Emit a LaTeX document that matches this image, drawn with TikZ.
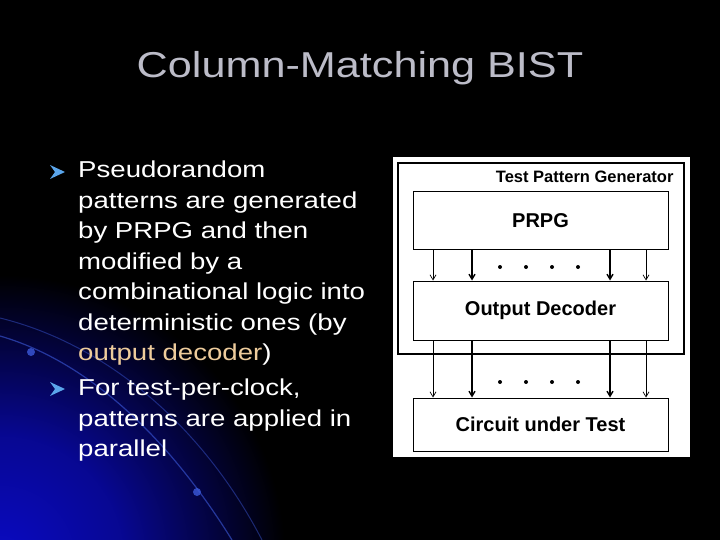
\documentclass[tikz,border=0pt]{standalone}
\usepackage{fontspec}
\setmainfont{Liberation Sans}
\newfontfamily\widefont[FakeStretch=1.2]{Liberation Sans}
\usetikzlibrary{arrows.meta}

\definecolor{titlegray}{RGB}{188,188,200}
\definecolor{glowblue}{RGB}{10,10,195}
\definecolor{arcblue}{RGB}{60,90,220}
\definecolor{chevblue}{RGB}{90,165,235}
\definecolor{peach}{RGB}{238,204,156}

\pgfdeclareradialshading{cornerglow}{\pgfpoint{0bp}{0bp}}{%
    color(0bp)=(glowblue); color(10bp)=(glowblue!75!black);
    color(23bp)=(black); color(50bp)=(black)}

\begin{document}
\begin{tikzpicture}[
        x=1pt, y=-1pt,
        block/.style={
            draw,
            line width=1pt,
            minimum width=255pt,
            inner sep=0pt,
            font=\bfseries\fontsize{20}{22}\selectfont
        },
        wire/.style={
            -{Straight Barb[length=5pt, width=6pt]}
        },
        bullettext/.style={
            anchor=north west,
            inner sep=0pt,
            align=left,
            text=white,
            font=\widefont\fontsize{23}{30.5}\selectfont
        },
        chevron/.style={
            fill=chevblue
        }
    ]

    \fill[black] (0,0) rectangle (720,540);
    \useasboundingbox (0,0) rectangle (720,540);

    \begin{scope}
        \clip (0,0) rectangle (720,540);
        \shade[shading=cornerglow] (0,560) circle (310);
        \draw[arcblue, opacity=0.6, line width=1.2pt]
            (0,336) .. controls (90,362) and (170,440) .. (232,540);
        \draw[arcblue, opacity=0.45, line width=1pt]
            (0,318) .. controls (110,345) and (205,430) .. (262,540);
        \fill[arcblue, opacity=0.8] (31,352) circle (4);
        \fill[arcblue, opacity=0.8] (197,492) circle (4);
    \end{scope}

    \node[text=titlegray, font=\widefont\fontsize{36}{40}\selectfont] (title) at (360,68) {Column-Matching BIST};

    \fill[chevron] (50,165) -- (65,172) -- (50,179) -- (55,172) -- cycle;
    \fill[chevron] (50,382) -- (65,389) -- (50,396) -- (55,389) -- cycle;

    \node[bullettext] (first) at (78,161) {Pseudorandom\\patterns are generated\\by PRPG and then\\modified by a\\combinational logic into\\deterministic ones (by\\\textcolor{peach}{output decoder})};
    \node[bullettext] (second) at (78,379) {For test-per-clock,\\patterns are applied in\\parallel};

    \node[fill=white, minimum width=297pt, minimum height=300pt, inner sep=0pt] (panel) at (541.5,307) {};
    \node[draw, line width=1.6pt, minimum width=286pt, minimum height=191pt, inner sep=0pt] (tpg) at (541,258.5) {};
    \node[anchor=base east, font=\bfseries\fontsize{16.5}{18}\selectfont] (tpglabel) at (677,183) {Test Pattern Generator};

    \node[block, minimum height=57pt] (prpg) at (540.5,220.5) {PRPG};
    \node[block, minimum height=59pt] (decoder) at (540.5,310.5) {Output Decoder};
    \node[block, minimum height=53pt] (cut) at (540.5,424.5) {Circuit under Test};

    \foreach \x/\w in {433/0.7,472/1.4,610/1.4,646/0.7} {
        \coordinate (col) at (\x,0);
        \draw[wire, line width=\w pt] (prpg.south -| col) -- (decoder.north -| col);
        \draw[wire, line width=\w pt] (decoder.south -| col) -- (cut.north -| col);
    }

    \foreach \x in {500,526,552,578} {
        \fill (\x,267) circle (2);
        \fill (\x,382) circle (2);
    }

\end{tikzpicture}
\end{document}
